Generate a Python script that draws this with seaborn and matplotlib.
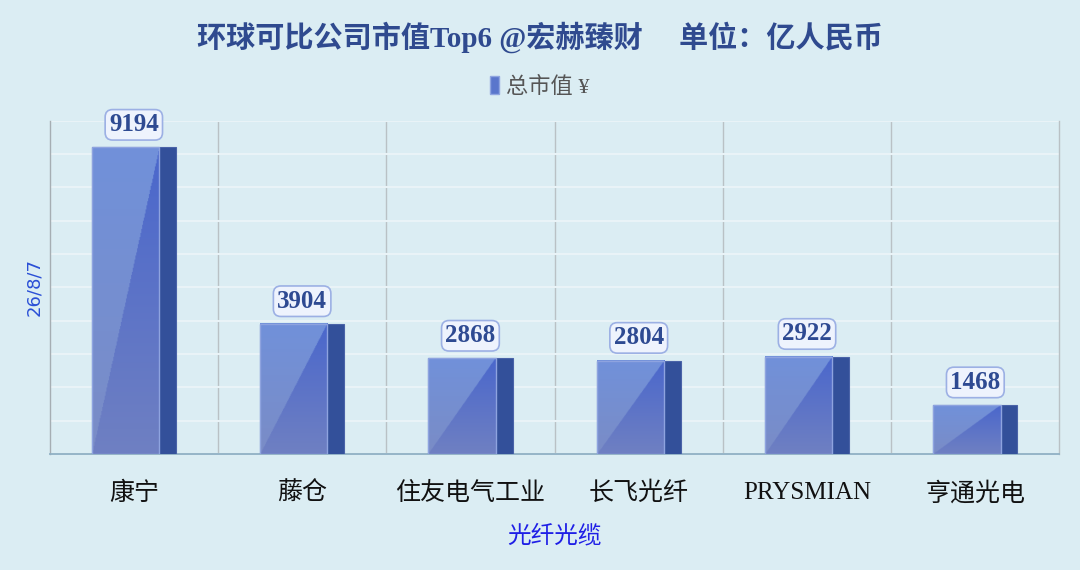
import numpy as np
import pandas as pd
import seaborn as sns
import matplotlib.pyplot as plt
from matplotlib.patches import Rectangle, Patch
from matplotlib.colors import to_rgb

# data
companies = ['康宁', '藤仓', '住友电气工业', '长飞光纤', 'PRYSMIAN', '亨通光电']
market_cap = [9194, 3904, 2868, 2804, 2922, 1468]

series_name = '总市值 ¥'
title = '环球可比公司市值Top6 @宏赫臻财     单位：亿人民币'
x_title = '光纤光缆'
y_title = '26/8/7'

df = pd.DataFrame({'company': companies, 'cap': market_cap})

bg = '#dbedf3'
sns.set_theme(style='white', rc={'axes.facecolor': bg, 'figure.facecolor': bg})
plt.rcParams['font.family'] = ['Liberation Serif', 'Noto Sans CJK SC']

fig = plt.figure(figsize=(10.8, 5.7), dpi=100)
ax = fig.add_axes([0.046, 0.2035, 0.935, 0.585])

# full bar = dark side face, the front face is painted over it
sns.barplot(data=df, x='company', y='cap', color='#33509a', width=0.5,
            saturation=1, ax=ax, zorder=3, edgecolor='#4a63a8', linewidth=0.8)


def mix(c1, c2, t):
    return (1 - t) * np.array(to_rgb(c1)) + t * np.array(to_rgb(c2))


ny, nx = 300, 80
v = np.linspace(1, 0, ny)[:, None, None]
u = np.linspace(0, 1, nx)[None, :, None]
left = mix('#7a8cc6', '#7191da', v)
right = mix('#6f80c2', '#4a67cc', v)
img = np.where(u > v, right, left)

for p, val in zip(ax.patches, market_cap):
    x0, w, h = p.get_x(), p.get_width(), p.get_height()
    fw = w * 0.8
    ax.imshow(img, extent=(x0, x0 + fw, 0, h), aspect='auto',
              interpolation='bilinear', zorder=4)
    ax.add_patch(Rectangle((x0, 0), fw, h, fill=False, ec='#8ea3df',
                           lw=1, zorder=5))
    ax.annotate(f'{val}', (x0 + w / 2, h), xytext=(0, 8),
                textcoords='offset points', ha='center', va='bottom',
                fontsize=18, fontweight='bold', color='#2e4a92', zorder=6,
                bbox=dict(boxstyle='round,pad=0.15,rounding_size=0.3',
                          fc='#eef3fd', ec='#9cb0e4', lw=1.2))

ax.set_xlim(-0.5, len(companies) - 0.5)
ax.set_ylim(0, 10000)
ax.set_yticks(range(0, 10001, 1000))
ax.set_yticklabels([])
ax.yaxis.grid(True, color='#e9f3f7', lw=1.5)
ax.set_xticks(np.arange(len(companies) - 1) + 0.5, minor=True)
ax.grid(axis='x', which='minor', color='#b9c1c5', lw=1)
ax.grid(axis='x', which='major', visible=False)
ax.set_axisbelow(True)
ax.tick_params(axis='both', which='both', length=0)
ax.tick_params(axis='x', pad=20, labelsize=18, labelcolor='#111111')

ax.spines['top'].set_visible(False)
ax.spines['left'].set_color('#a6aeb3')
ax.spines['right'].set_color('#b9c1c5')
ax.spines['bottom'].set_color('#8fb0c4')
ax.spines['bottom'].set_linewidth(1.3)
for s in ['left', 'right']:
    ax.spines[s].set_linewidth(1)

ax.set_xlabel(x_title, fontsize=17, color='#1f1fe6', labelpad=14)
ax.set_ylabel(y_title, fontsize=13, color='#2a4fd6', family='DejaVu Sans',
              labelpad=1)

fig.text(0.5, 1 - 37 / 570, title, ha='center', va='center', fontsize=21,
         fontweight='bold', color='#2f4a8f')

fig.legend(handles=[Patch(fc='#5a76cc', ec='#8fa5e0')], labels=[series_name],
           loc='center', bbox_to_anchor=(0.5, 1 - 87 / 570), frameon=False,
           fontsize=16, handlelength=0.4, handleheight=0.9, handletextpad=0.3,
           labelcolor='#555555')

fig.savefig('out.png', dpi=100, facecolor=bg)
